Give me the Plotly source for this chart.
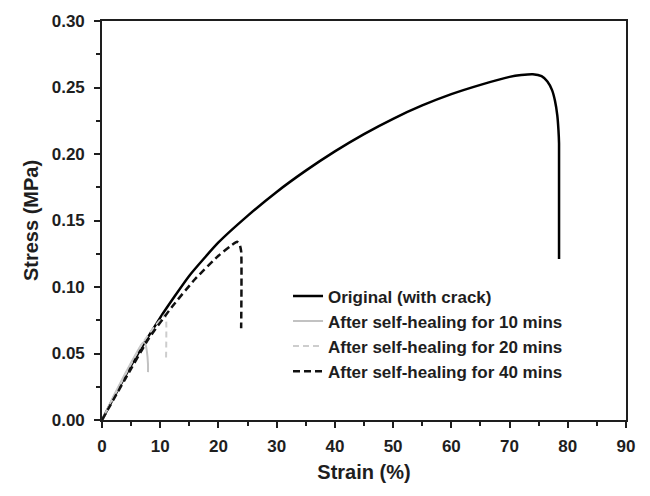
import plotly.graph_objects as go

# Stress-strain curves (strain in %, stress in MPa)
orig_strain = [0, 5, 10, 15, 20, 25, 30, 35, 40, 45, 50, 55, 60, 65, 70, 72, 74,
               75.5, 76.5, 77.3, 77.8, 78.2, 78.4, 78.5, 78.5]
orig_stress = [0, 0.041, 0.077, 0.1085, 0.1335, 0.1535, 0.1715, 0.1875, 0.202, 0.215, 0.2265,
               0.2365, 0.245, 0.252, 0.258, 0.2594, 0.2600, 0.2585, 0.2545, 0.248, 0.240, 0.229,
               0.218, 0.208, 0.121]

heal10_strain = [0, 2, 4, 6, 7, 7.4, 7.7, 7.9, 7.9]
heal10_stress = [0, 0.018, 0.035, 0.051, 0.058, 0.058, 0.052, 0.042, 0.036]

heal20_strain = [0, 2, 4, 7, 9, 10.8, 11.0, 11.0]
heal20_stress = [0, 0.017, 0.034, 0.058, 0.070, 0.079, 0.077, 0.045]

heal40_strain = [0, 4, 8, 12, 16, 20, 22, 23.2, 23.6, 23.9, 23.9]
heal40_stress = [0, 0.031, 0.061, 0.085, 0.106, 0.1235, 0.1305, 0.1340, 0.1325, 0.127, 0.069]

series_names = ["Original (with crack)", "After self-healing for 10 mins",
                "After self-healing for 20 mins", "After self-healing for 40 mins"]

x_ticks = list(range(0, 91, 10))
y_ticks = [0.00, 0.05, 0.10, 0.15, 0.20, 0.25, 0.30]

FONT = "Arial, Liberation Sans, sans-serif"
INK = "#1e1e1e"

styles = [
    dict(color="#000000", width=2.5, dash="solid"),
    dict(color="#c2c2c2", width=2.0, dash="solid"),
    dict(color="#cdcdcd", width=2.0, dash="6px,4px"),
    dict(color="#111111", width=2.5, dash="7px,4px"),
]
curves = [(orig_strain, orig_stress), (heal10_strain, heal10_stress),
          (heal20_strain, heal20_stress), (heal40_strain, heal40_stress)]

fig = go.Figure()
for (xs, ys), name, st in zip(curves, series_names, styles):
    fig.add_trace(go.Scatter(x=xs, y=ys, mode="lines", name=name,
                             line=dict(color=st["color"], width=st["width"], dash=st["dash"],
                                       shape="spline", smoothing=0.5)))

axis_common = dict(
    showline=True, linewidth=1.6, linecolor=INK, mirror=True,
    ticks="outside", ticklen=6, tickwidth=1.5, tickcolor=INK,
    showgrid=False, zeroline=False,
    tickfont=dict(family=FONT, size=17, color=INK, weight="bold"),
)
minor_common = dict(ticks="outside", ticklen=4, tickwidth=1.5, tickcolor=INK)
title_font = dict(family=FONT, size=20, color=INK, weight="bold")

fig.update_layout(
    width=650, height=496,
    margin=dict(l=102, r=24, t=17, b=76),
    paper_bgcolor="white", plot_bgcolor="white",
    xaxis=dict(range=[0, 90], tickvals=x_ticks, ticklabelstandoff=4,
               minor=dict(dtick=5, **minor_common),
               title=dict(text="Strain (%)", standoff=10, font=title_font),
               **axis_common),
    yaxis=dict(range=[0, 0.30], tickvals=y_ticks, tickformat=".2f", ticklabelstandoff=6,
               minor=dict(dtick=0.025, **minor_common),
               title=dict(text="Stress (MPa)", standoff=8, font=title_font),
               **axis_common),
    legend=dict(x=0.355, y=0.355, xanchor="left", yanchor="top",
                bgcolor="rgba(0,0,0,0)", borderwidth=0, tracegroupgap=0,
                traceorder="normal",
                font=dict(family=FONT, size=17, color=INK, weight="bold")),
    showlegend=True,
)

fig.write_html("out.html")
